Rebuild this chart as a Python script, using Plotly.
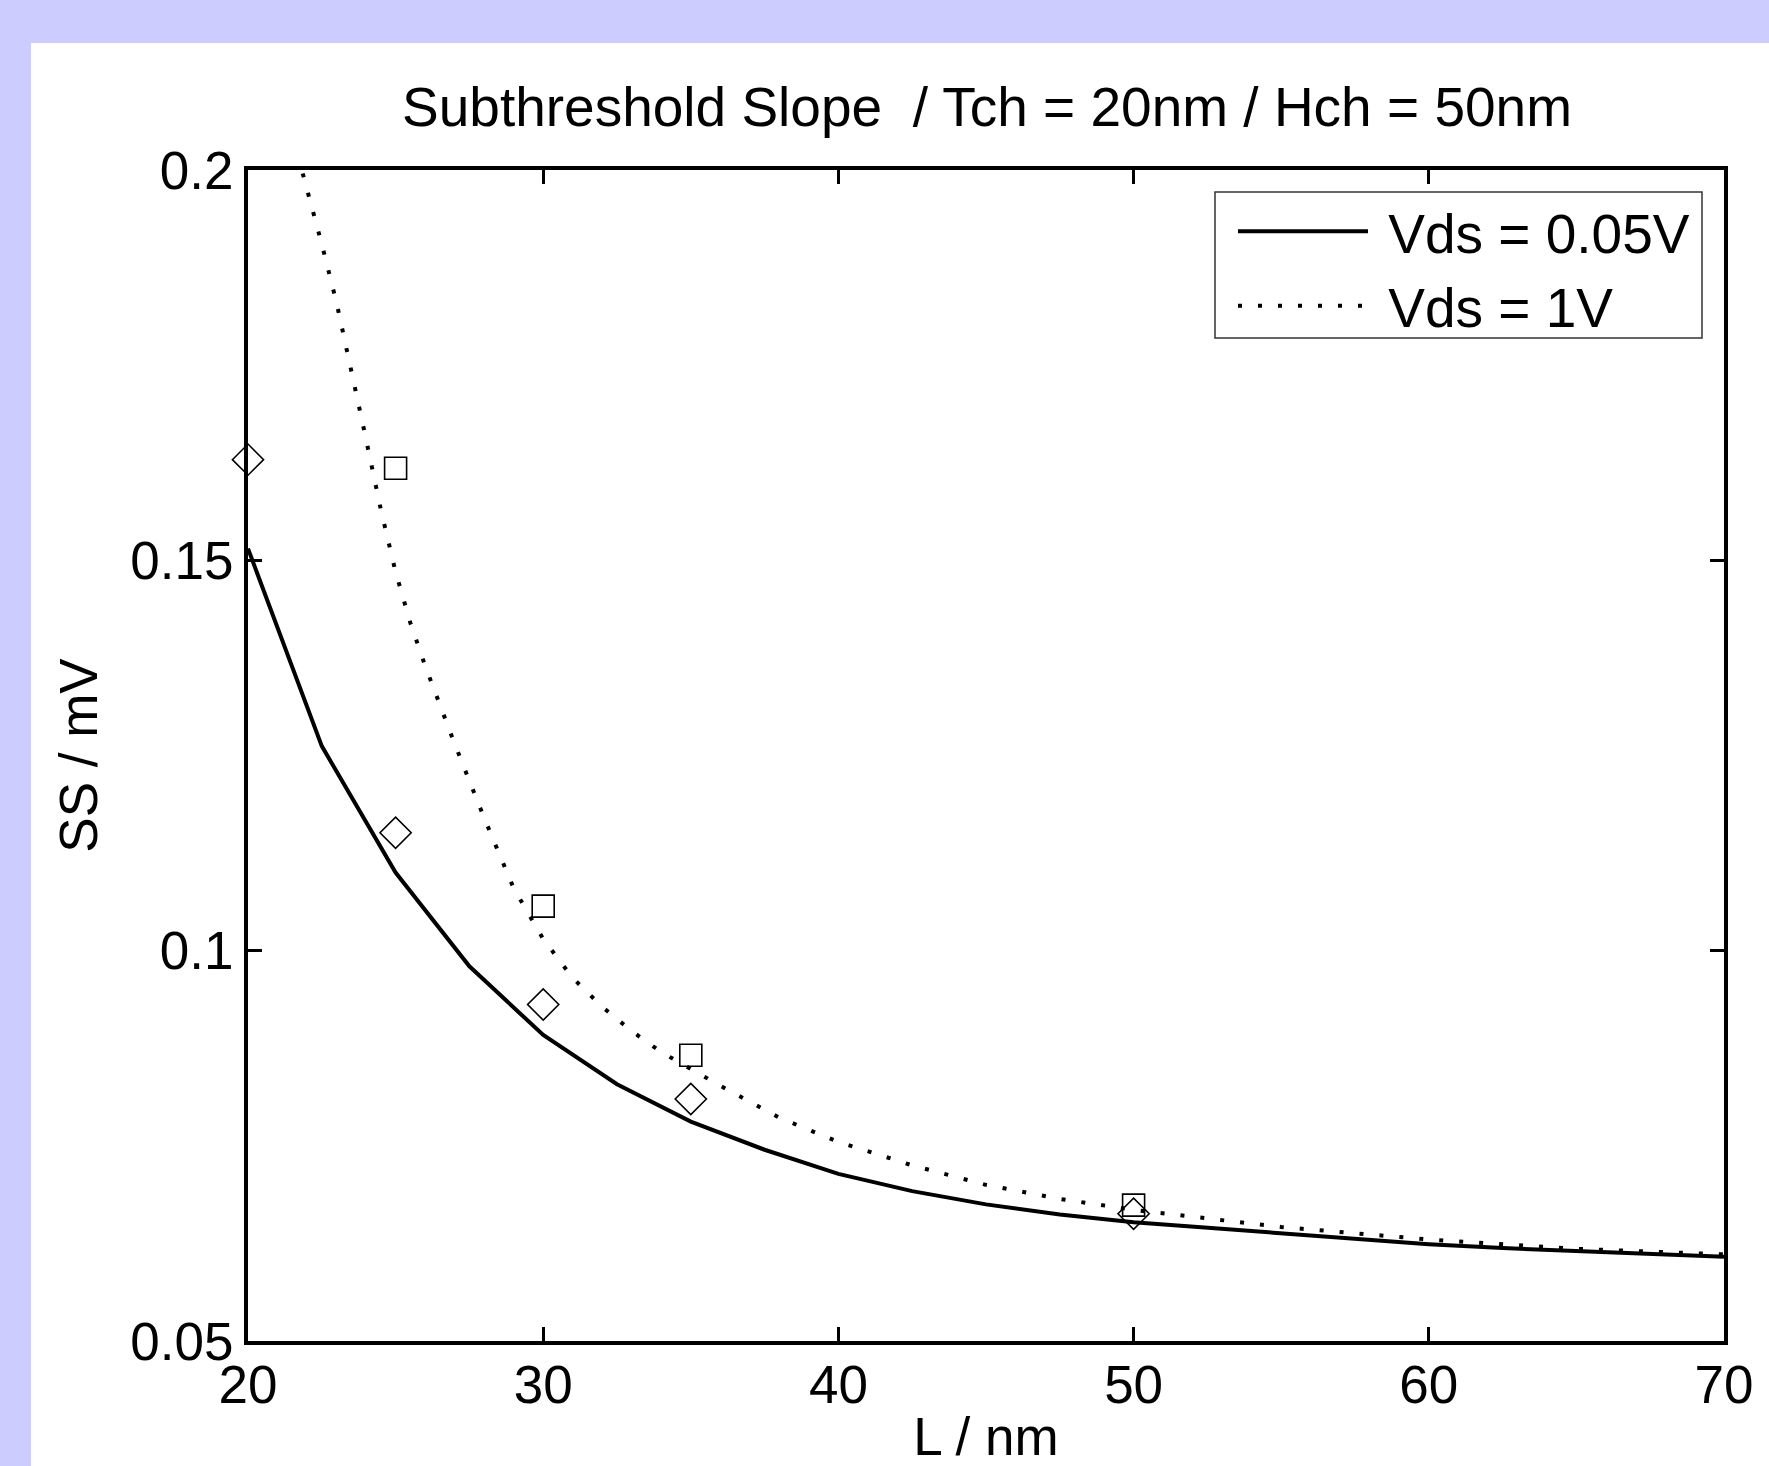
import plotly.graph_objects as go

# ---------------- data ----------------
L_solid = [20, 22.5, 25, 27.5, 30, 32.5, 35, 37.5, 40, 42.5, 45, 47.5, 50,
           52.5, 55, 57.5, 60, 62.5, 65, 67.5, 70]
SS_solid = [0.1515, 0.1262, 0.1100, 0.0980, 0.0892, 0.0829, 0.0781, 0.0745,
            0.0714, 0.0692, 0.0675, 0.0662, 0.0652, 0.0645, 0.0637, 0.0630,
            0.0624, 0.0619, 0.0615, 0.0611, 0.0608]

L_dot = [21.5, 22, 22.5, 23, 23.5, 24, 24.5, 25, 25.5, 26, 27, 28, 29, 30,
         31, 32, 33, 34, 36, 38, 40, 42.5, 45, 47.5, 50, 55, 60, 65, 70]
SS_dot = [0.2045, 0.1975, 0.1905, 0.1830, 0.1745, 0.1655, 0.1565, 0.1485,
          0.1420, 0.1365, 0.1265, 0.1170, 0.1080, 0.1015, 0.0965, 0.0928,
          0.0897, 0.0870, 0.0827, 0.0786, 0.0755, 0.0725, 0.0700, 0.0682,
          0.0668, 0.0646, 0.0630, 0.0618, 0.0611]

L_diamond = [20, 25, 30, 35, 50]
SS_diamond = [0.1629, 0.1151, 0.0931, 0.0810, 0.0663]

L_square = [25, 30, 35, 50]
SS_square = [0.1618, 0.1057, 0.0866, 0.0674]

x_ticks = [20, 30, 40, 50, 60, 70]
x_ticktext = ["20", "30", "40", "50", "60", "70"]
y_ticks = [0.05, 0.1, 0.15, 0.2]
y_ticktext = ["0.05", "0.1", "0.15", "0.2"]

series_names = ["Vds = 0.05V", "Vds = 1V"]
title_text = "Subthreshold Slope\u00a0 / Tch = 20nm / Hch = 50nm"
x_title = "L / nm"
y_title = "SS / mV"

# ---------------- figure ----------------
W, H = 1769, 1466
ML, MR, MT, MB = 248, 45, 170, 125
PW, PH = W - ML - MR, H - MT - MB

FONT = "Liberation Sans, Arial, Helvetica, sans-serif"
FS = 53
FS_BIG = 55


def px_to_paper_x(px):
    return (px - ML) / PW


def px_to_paper_y(py):
    return (H - MB - py) / PH


fig = go.Figure()

fig.add_trace(go.Scatter(
    x=L_solid, y=SS_solid, mode="lines", name="\u00a0" + series_names[0],
    line=dict(color="black", width=4),
))
fig.add_trace(go.Scatter(
    x=L_dot, y=SS_dot, mode="lines", name="\u00a0" + series_names[1],
    line=dict(color="black", width=4, dash="4px,16px"),
))
fig.add_trace(go.Scatter(
    x=L_diamond, y=SS_diamond, mode="markers", showlegend=False,
    marker=dict(symbol="diamond-open", size=24, color="black",
                line=dict(color="black", width=1.6)),
    cliponaxis=False,
))
fig.add_trace(go.Scatter(
    x=L_square, y=SS_square, mode="markers", showlegend=False,
    marker=dict(symbol="square-open", size=22, color="black",
                line=dict(color="black", width=1.6)),
    cliponaxis=False,
))

# white panel on the lavender page
fig.add_shape(type="rect", xref="paper", yref="paper", layer="below",
              x0=px_to_paper_x(31), x1=px_to_paper_x(W + 20),
              y0=px_to_paper_y(H + 20), y1=px_to_paper_y(43),
              fillcolor="white", line=dict(width=0))

# legend frame
fig.add_shape(type="rect", xref="paper", yref="paper", layer="above",
              x0=px_to_paper_x(1215), x1=px_to_paper_x(1702),
              y0=px_to_paper_y(338), y1=px_to_paper_y(192),
              fillcolor="rgba(0,0,0,0)", line=dict(color="#333333", width=1.5))

axis_common = dict(
    showline=True, linecolor="black", linewidth=4, mirror="ticks",
    ticks="inside", ticklen=14, tickwidth=3, tickcolor="black",
    showgrid=False, zeroline=False,
    tickfont=dict(family=FONT, size=FS, color="black"),
)

fig.update_xaxes(range=[20, 70], tickvals=x_ticks, ticktext=x_ticktext,
                 ticklabelstandoff=-6,
                 title=dict(text=x_title, font=dict(family=FONT, size=FS, color="black"),
                            standoff=25),
                 **axis_common)
fig.update_yaxes(range=[0.05, 0.2], tickvals=y_ticks, ticktext=y_ticktext,
                 title=dict(text=y_title, font=dict(family=FONT, size=FS, color="black"),
                            standoff=17),
                 **axis_common)

fig.update_layout(
    width=W, height=H,
    margin=dict(l=ML, r=MR, t=MT, b=MB, autoexpand=False),
    paper_bgcolor="#CCCCFF",
    plot_bgcolor="white",
    font=dict(family=FONT, size=FS, color="black"),
    title=dict(text=title_text, x=px_to_paper_x(987), xref="paper",
               y=1 - 107 / H, yref="container", xanchor="center", yanchor="middle",
               font=dict(family=FONT, size=FS_BIG, color="black")),
    legend=dict(x=px_to_paper_x(1233), y=px_to_paper_y(189), xanchor="left", yanchor="top",
                bgcolor="rgba(0,0,0,0)", borderwidth=0,
                font=dict(family=FONT, size=FS_BIG, color="black"),
                itemwidth=130, tracegroupgap=0),
    showlegend=True,
)

fig.write_html("out.html", config={"displayModeBar": False},
               post_script="document.body.style.margin='0';document.body.style.overflow='hidden';")
